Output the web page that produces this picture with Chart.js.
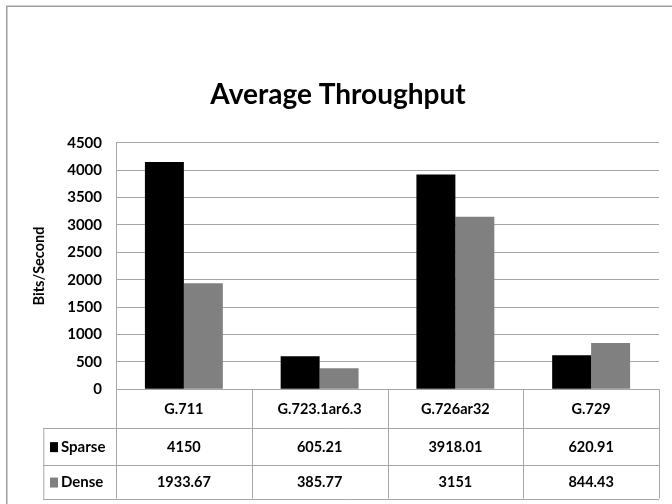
<!DOCTYPE html>
<html>
<head>
<meta charset="utf-8">
<script src="https://cdn.jsdelivr.net/npm/chart.js@4/dist/chart.umd.min.js"></script>
<style>
  html, body { margin: 0; padding: 0; background: #ffffff; }
  canvas { display: block; }
</style>
</head>
<body>
<canvas id="chart" width="672" height="504"></canvas>
<script>
// Codec categories and measured throughput (bits per second)
const codecs = ['G.711', 'G.723.1ar6.3', 'G.726ar32', 'G.729'];
const sparseValues = [4150, 605.21, 3918.01, 620.91];
const denseValues = [1933.67, 385.77, 3151, 844.43];
const seriesNames = ['Sparse', 'Dense'];
const seriesColors = ['#000000', '#808080'];
const titleText = 'Average Throughput';
const axisTitle = 'Bits/Second';

const FONT = "Lato, 'Open Sans', 'Liberation Sans', sans-serif";
const LINE = '#a6a6a6';

// Rows of the data table drawn beneath the plot
const tableRows = [
  { name: seriesNames[0], color: seriesColors[0], values: sparseValues },
  { name: seriesNames[1], color: seriesColors[1], values: denseValues }
];

const framePlugin = {
  id: 'frameAndTable',
  afterDraw(chart) {
    const ctx = chart.ctx;
    const area = chart.chartArea;
    const xs = chart.scales.x;
    ctx.save();

    // outer frame (left and top edges visible)
    ctx.strokeStyle = '#a0a0a0';
    ctx.lineWidth = 1.5;
    ctx.strokeRect(6.75, 6.25, 720, 600);

    // title
    ctx.fillStyle = '#000';
    ctx.font = 'bold 28px ' + FONT;
    ctx.textAlign = 'center';
    ctx.textBaseline = 'middle';
    ctx.fillText(titleText, 338, 95);

    // data table
    const n = codecs.length;
    const catW = xs.width / n;
    const rowY = [area.bottom, area.bottom + 38.4, area.bottom + 75.3, area.bottom + 109.2];
    const legendLeft = 43.3;

    ctx.strokeStyle = LINE;
    ctx.lineWidth = 1;
    ctx.beginPath();
    // vertical lines of category columns
    for (let i = 0; i <= n; i++) {
      const x = Math.round(xs.left + i * catW) + 0.5;
      ctx.moveTo(x, rowY[0]);
      ctx.lineTo(x, rowY[3]);
    }
    // horizontal lines across the table
    for (let r = 1; r < rowY.length; r++) {
      const y = Math.round(rowY[r]) + 0.5;
      ctx.moveTo(legendLeft, y);
      ctx.lineTo(xs.right, y);
    }
    // legend column left edge
    ctx.moveTo(legendLeft + 0.5, Math.round(rowY[1]) + 0.5);
    ctx.lineTo(legendLeft + 0.5, Math.round(rowY[3]) + 0.5);
    ctx.stroke();

    ctx.font = 'bold 14.5px ' + FONT;
    ctx.fillStyle = '#000';
    ctx.textAlign = 'center';
    ctx.textBaseline = 'middle';
    // category header row
    codecs.forEach((c, i) => {
      ctx.fillText(c, xs.getPixelForValue(i), (rowY[0] + rowY[1]) / 2 + 1);
    });
    // series rows
    tableRows.forEach((row, r) => {
      const cy = (rowY[r + 1] + rowY[r + 2]) / 2 + 1;
      row.values.forEach((v, i) => {
        ctx.fillStyle = '#000';
        ctx.textAlign = 'center';
        ctx.fillText(String(v), xs.getPixelForValue(i), cy);
      });
      // legend key and name
      ctx.fillStyle = row.color;
      ctx.fillRect(50, cy - 5, 8, 10);
      ctx.fillStyle = '#000';
      ctx.textAlign = 'left';
      ctx.font = 'bold 15px ' + FONT;
      ctx.fillText(row.name, 61, cy);
      ctx.font = 'bold 14.5px ' + FONT;
    });

    ctx.restore();
  }
};

new Chart(document.getElementById('chart'), {
  type: 'bar',
  data: {
    labels: codecs,
    datasets: [
      { label: seriesNames[0], data: sparseValues, backgroundColor: seriesColors[0] },
      { label: seriesNames[1], data: denseValues, backgroundColor: seriesColors[1] }
    ]
  },
  options: {
    responsive: false,
    animation: false,
    devicePixelRatio: 1,
    layout: { padding: { left: 0, right: 13, top: 142.7, bottom: 114.7 } },
    datasets: { bar: { categoryPercentage: 0.574, barPercentage: 1.0, borderWidth: 0 } },
    plugins: {
      legend: { display: false },
      title: { display: false },
      tooltip: { enabled: false }
    },
    scales: {
      x: {
        grid: { display: false, drawTicks: false },
        border: { display: false },
        ticks: { display: false },
        afterFit(scale) { scale.height = 0; }
      },
      y: {
        min: 0,
        max: 4500,
        ticks: {
          stepSize: 500,
          color: '#000',
          font: { family: FONT, size: 15, weight: 'bold' },
          padding: 14,
          callback: (v) => String(v)
        },
        grid: { color: LINE, lineWidth: 1, drawTicks: false },
        border: { color: LINE, width: 1 },
        title: {
          display: true,
          text: axisTitle,
          color: '#000',
          font: { family: FONT, size: 14.5, weight: 'bold' },
          padding: { top: 31, bottom: 0 }
        },
        afterFit(scale) { scale.width = 116; }
      }
    }
  },
  plugins: [framePlugin]
});
</script>
</body>
</html>
